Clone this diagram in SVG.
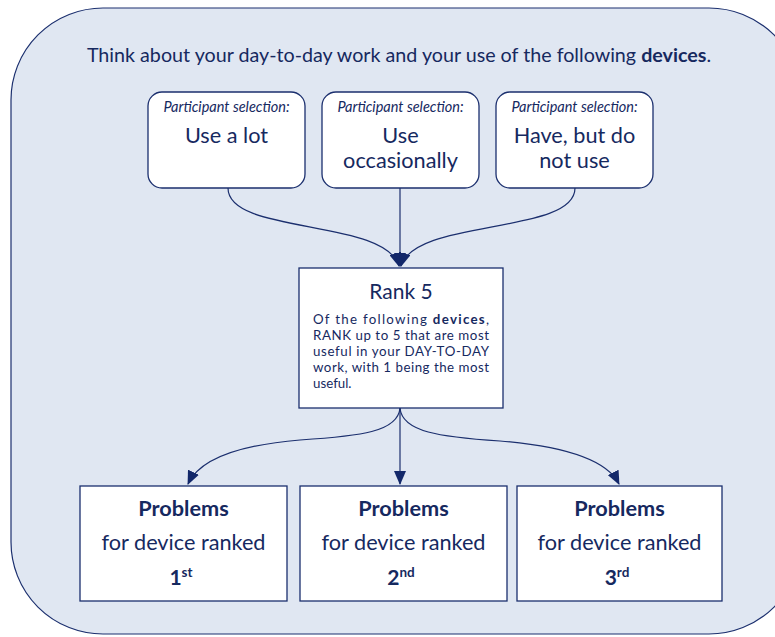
<svg xmlns="http://www.w3.org/2000/svg" width="775" height="637" viewBox="0 0 775 637">
<defs>
<marker id="ah" markerWidth="14" markerHeight="12" refX="13" refY="6" orient="auto" markerUnits="userSpaceOnUse">
<path d="M0,0 L14,6 L0,12 z" fill="#13286a"/>
</marker>
<style>
.t{font-family:Lato,"Noto Sans",sans-serif;fill:#16295f;font-weight:400}
.box{fill:#ffffff;stroke:#1b2f6e;stroke-width:1.3}
.c{fill:none;stroke:#1b2f6e;stroke-width:1.2;marker-end:url(#ah)}
.ps{font-size:14.5px;font-style:italic}
.big{font-size:21.7px}
.b{font-weight:bold}
.sm{font-size:13.3px}
</style>
</defs>
<rect width="775" height="637" fill="#ffffff"/>
<rect id="frame" x="11" y="8" width="790" height="626" rx="92" ry="92" fill="#e0e7f2" stroke="#1b2f6e" stroke-width="1.2"/>
<text class="t" x="399" y="62" font-size="19.7" text-anchor="middle">Think about your day-to-day work and your use of the following <tspan class="b">devices</tspan>.</text>
<g id="connectors">
<path class="c" d="M228,188 C228,235 385,218 399,266"/>
<path class="c" d="M400,188 L400,266"/>
<path class="c" d="M575,188 C575,235 415,218 401,266"/>
<path class="c" d="M400,408 C398,432 360,436 300,440 C240,445 200,458 188,484"/>
<path class="c" d="M400,408 L400,484"/>
<path class="c" d="M400,408 C402,432 440,437 500,441 C560,446 606,458 619,484"/>
</g>
<g id="sel1">
<rect class="box" x="148" y="92" width="157" height="96" rx="14"/>
<text class="t ps" x="226.5" y="112" text-anchor="middle">Participant selection:</text>
<text class="t big" x="226.5" y="143" text-anchor="middle">Use a lot</text>
</g>
<g id="sel2">
<rect class="box" x="322" y="92" width="157" height="96" rx="14"/>
<text class="t ps" x="400.5" y="112" text-anchor="middle">Participant selection:</text>
<text class="t big" x="400.5" y="143" text-anchor="middle">Use</text>
<text class="t big" x="400.5" y="168" text-anchor="middle">occasionally</text>
</g>
<g id="sel3">
<rect class="box" x="496" y="92" width="157" height="96" rx="14"/>
<text class="t ps" x="574.5" y="112" text-anchor="middle">Participant selection:</text>
<text class="t big" x="574.5" y="143" text-anchor="middle">Have, but do</text>
<text class="t big" x="574.5" y="168" text-anchor="middle">not use</text>
</g>
<g id="rank">
<rect class="box" x="299" y="268" width="204" height="140"/>
<text class="t" x="401" y="299" font-size="21" text-anchor="middle">Rank 5</text>
<text class="t sm" x="313" y="324" textLength="176" lengthAdjust="spacing">Of the following <tspan class="b">devices</tspan>,</text>
<text class="t sm" x="313" y="340" textLength="176" lengthAdjust="spacing">RANK up to 5 that are most</text>
<text class="t sm" x="313" y="356" textLength="176" lengthAdjust="spacing">useful in your DAY-TO-DAY</text>
<text class="t sm" x="313" y="372" textLength="176" lengthAdjust="spacing">work, with 1 being the most</text>
<text class="t sm" x="313" y="388">useful.</text>
</g>
<g id="p1">
<rect class="box" x="80" y="486" width="207" height="115"/>
<text class="t big b" x="183.5" y="516" text-anchor="middle">Problems</text>
<text class="t big" x="183.5" y="550" text-anchor="middle">for device ranked</text>
<text class="t b" x="181" y="585" font-size="21" text-anchor="middle">1<tspan font-size="13.5" dy="-8">st</tspan></text>
</g>
<g id="p2">
<rect class="box" x="300" y="486" width="207" height="115"/>
<text class="t big b" x="403.5" y="516" text-anchor="middle">Problems</text>
<text class="t big" x="403.5" y="550" text-anchor="middle">for device ranked</text>
<text class="t b" x="401" y="585" font-size="21" text-anchor="middle">2<tspan font-size="13.5" dy="-8">nd</tspan></text>
</g>
<g id="p3">
<rect class="box" x="517" y="486" width="205" height="115"/>
<text class="t big b" x="619.5" y="516" text-anchor="middle">Problems</text>
<text class="t big" x="619.5" y="550" text-anchor="middle">for device ranked</text>
<text class="t b" x="617" y="585" font-size="21" text-anchor="middle">3<tspan font-size="13.5" dy="-8">rd</tspan></text>
</g>
</svg>
